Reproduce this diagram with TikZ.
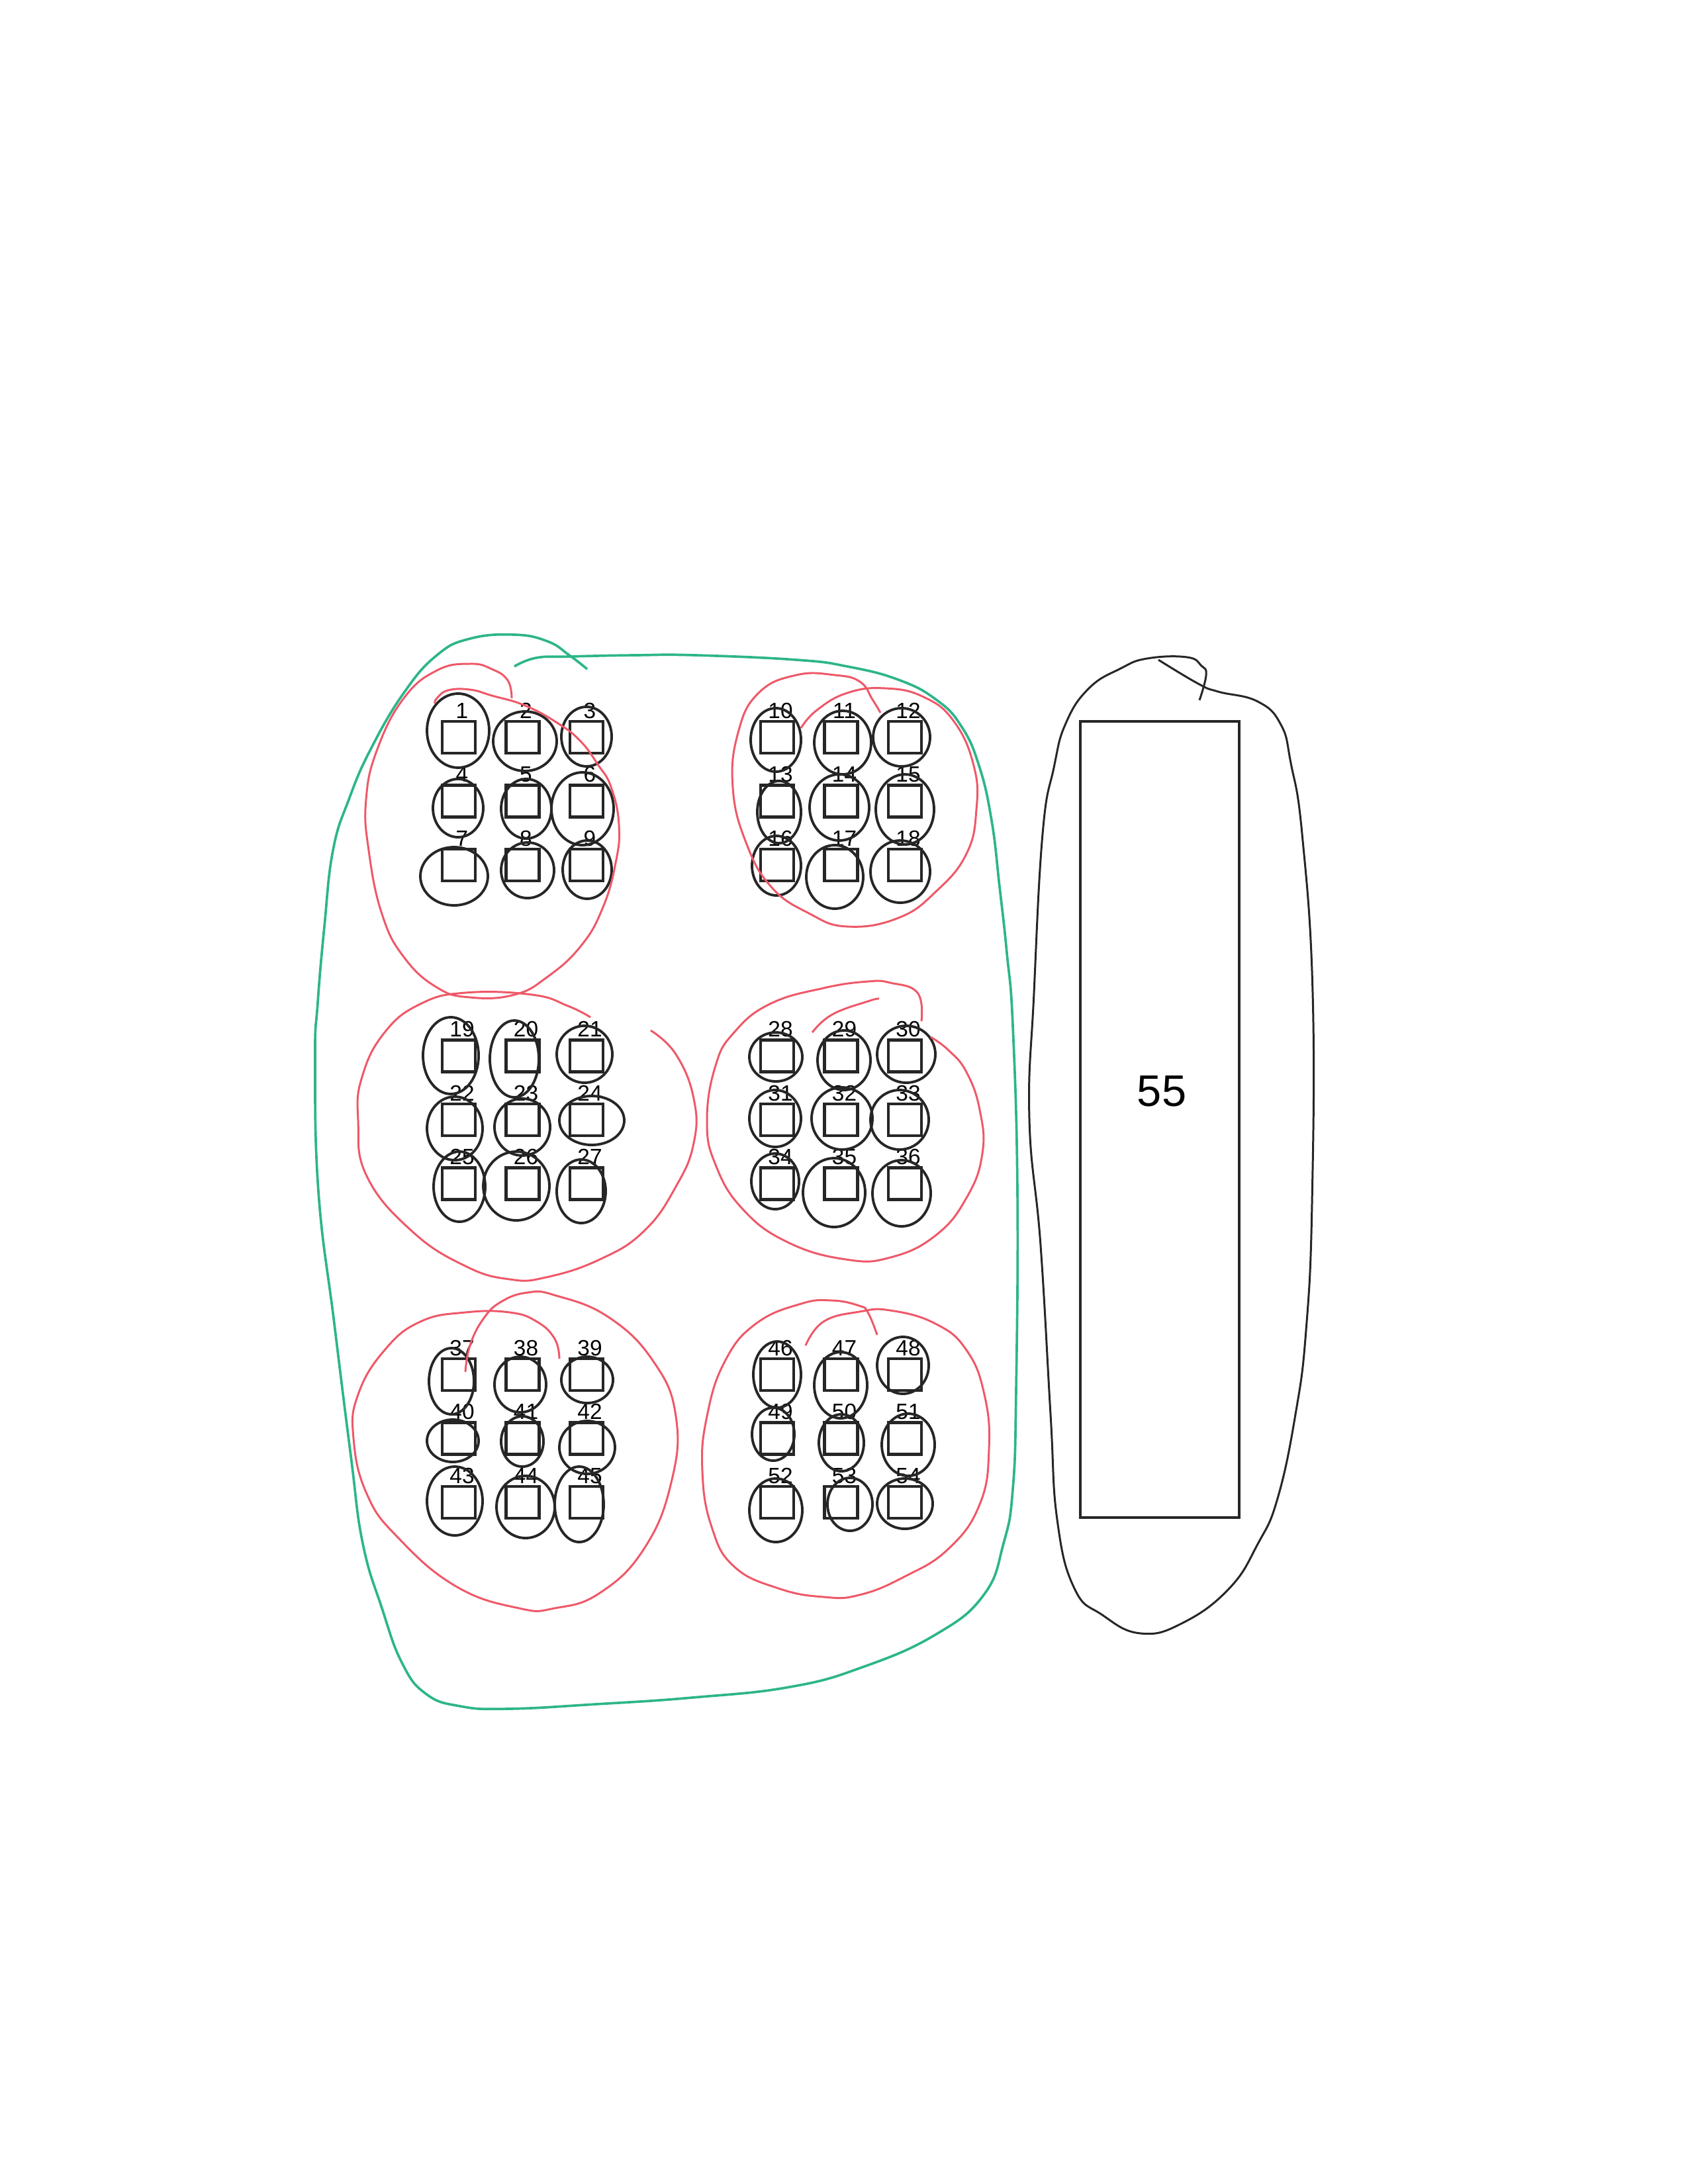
\documentclass[tikz,border=0pt]{standalone}
\usepackage{fontspec}
\setmainfont{Liberation Sans}
\usepackage{xcolor}
\usepackage{tikz}
\usetikzlibrary{calc}
\definecolor{inkdark}{HTML}{262626}
\definecolor{redpen}{HTML}{EE5868}
\definecolor{greenpen}{HTML}{2DB58A}
\tikzset{
  seat/.style={draw=inkdark,line width=1.3pt,minimum width=0.5cm,minimum height=0.48cm,inner sep=0pt},
  num/.style={font=\fontsize{9.5}{9.5}\selectfont,inner sep=0pt,anchor=base},
  ring/.style={draw=inkdark,line width=1.1pt},
  redloop/.style={draw=redpen,line width=0.85pt},
  greenloop/.style={draw=greenpen,line width=1.05pt},
  blackloop/.style={draw=inkdark,line width=0.85pt},
  block/.style={draw=inkdark,line width=1.4pt,minimum width=2.4cm,minimum height=12.03cm,inner sep=0pt},
  bignum/.style={font=\fontsize{19}{19}\selectfont,inner sep=0pt}
}

\begin{document}
\begin{tikzpicture}[smooth,tension=0.75]
  \useasboundingbox (0,0) rectangle (25.5,-33);
  \foreach \g in {0,...,5} {
    \foreach \r in {0,1,2} {
      \foreach \c in {0,1,2} {
        \pgfmathtruncatemacro{\n}{9*\g+3*\r+\c+1}
        \pgfmathsetmacro{\sx}{6.93+4.81*mod(\g,2)+0.965*\c}
        \pgfmathsetmacro{\sy}{-11.14-4.815*floor(\g/2)-0.965*\r}
        \node[seat] (s\n) at (\sx,\sy) {};
        \node[num] (n\n) at (\sx+0.05,\sy+0.29) {\n};
      }
    }
  }
  \foreach \n/\cx/\cy/\rx/\ry in {
    1/6.92/-11.04/.47/.56, 2/7.93/-11.20/.48/.45, 3/8.86/-11.13/.38/.45,
    4/6.92/-12.21/.38/.44, 5/7.95/-12.22/.38/.45, 6/8.80/-12.22/.47/.55,
    7/6.86/-13.24/.51/.44, 8/7.97/-13.15/.40/.42, 9/8.87/-13.14/.37/.44,
    10/11.72/-11.18/.38/.48, 11/12.73/-11.22/.43/.48, 12/13.62/-11.14/.43/.44,
    13/11.77/-12.27/.33/.47, 14/12.68/-12.20/.45/.50, 15/13.67/-12.23/.44/.53,
    16/11.73/-13.08/.37/.45, 17/12.61/-13.25/.43/.48, 18/13.60/-13.17/.45/.47,
    19/6.81/-15.95/.42/.58, 20/7.77/-16.00/.37/.58, 21/8.83/-15.93/.42/.43,
    22/6.87/-17.05/.42/.48, 23/7.89/-17.03/.42/.43, 24/8.94/-16.93/.49/.37,
    25/6.94/-17.93/.39/.53, 26/7.80/-17.92/.50/.52, 27/8.78/-18.00/.37/.48,
    28/11.72/-15.97/.40/.37, 29/12.75/-16.02/.40/.45, 30/13.69/-15.93/.44/.43,
    31/11.71/-16.90/.39/.43, 32/12.72/-16.90/.46/.47, 33/13.59/-16.92/.44/.45,
    34/11.71/-17.85/.36/.42, 35/12.60/-18.02/.47/.52, 36/13.62/-18.03/.44/.50,
    37/6.82/-20.87/.34/.50, 38/7.86/-20.92/.39/.42, 39/8.87/-20.85/.39/.35,
    40/6.84/-21.77/.39/.32, 41/7.89/-21.78/.32/.38, 42/8.87/-21.87/.42/.40,
    43/6.87/-22.68/.42/.52, 44/7.94/-22.77/.44/.47, 45/8.75/-22.73/.37/.57,
    46/11.74/-20.77/.36/.50, 47/12.70/-20.93/.40/.50, 48/13.64/-20.63/.39/.43,
    49/11.68/-21.67/.32/.40, 50/12.71/-21.80/.34/.43, 51/13.72/-21.83/.40/.47,
    52/11.72/-22.82/.40/.48, 53/12.84/-22.73/.34/.40, 54/13.67/-22.72/.42/.38}
    \draw[ring] (\cx,\cy) ellipse[x radius=\rx, y radius=\ry];
  \draw[redloop] plot coordinates {(7.73,-10.55) (7.67,-10.28) (7.43,-10.11) (7.10,-10.03) (6.60,-10.13) (6.10,-10.55) (5.70,-11.32) (5.53,-12.08) (5.57,-12.85) (5.77,-13.81) (6.10,-14.46) (6.60,-14.92) (7.10,-15.07) (7.77,-15.03) (8.27,-14.76) (8.77,-14.30) (9.10,-13.73) (9.30,-13.04) (9.35,-12.46) (9.23,-11.89) (9.03,-11.55) (8.77,-11.20) (8.43,-10.93) (7.93,-10.66) (7.43,-10.51) (7.10,-10.42) (6.77,-10.43) (6.60,-10.55) (6.57,-10.63)};
  \draw[redloop] plot coordinates {(13.30,-10.77) (13.18,-10.57) (12.99,-10.30) (12.61,-10.20) (12.03,-10.20) (11.46,-10.47) (11.15,-11.07) (11.07,-11.90) (11.27,-12.73) (11.65,-13.40) (12.22,-13.80) (12.80,-14.00) (13.57,-13.87) (14.14,-13.47) (14.60,-12.90) (14.75,-12.23) (14.71,-11.57) (14.41,-10.90) (13.95,-10.53) (13.37,-10.40) (12.80,-10.47) (12.34,-10.73) (12.10,-11.00)};
  \draw[redloop] plot coordinates {(9.83,-15.57) (10.21,-15.93) (10.48,-16.60) (10.48,-17.27) (10.21,-17.93) (9.73,-18.60) (9.06,-19.03) (8.25,-19.30) (7.70,-19.33) (7.03,-19.13) (6.22,-18.60) (5.54,-17.77) (5.41,-16.93) (5.47,-16.27) (5.81,-15.60) (6.35,-15.17) (7.03,-15.00) (8.04,-15.03) (8.58,-15.20) (8.92,-15.37)};
  \draw[redloop] plot coordinates {(13.92,-15.43) (13.86,-15.00) (13.45,-14.85) (13.11,-14.83) (12.44,-14.93) (11.63,-15.17) (11.09,-15.60) (10.81,-16.10) (10.68,-16.93) (10.81,-17.60) (11.22,-18.27) (11.90,-18.77) (12.78,-19.03) (13.45,-19.00) (14.13,-18.67) (14.60,-18.10) (14.84,-17.43) (14.80,-16.77) (14.60,-16.20) (14.33,-15.87) (14.06,-15.67)};
  \draw[redloop] plot coordinates {(12.27,-15.60) (12.57,-15.33) (13.11,-15.13) (13.28,-15.09)};
  \draw[redloop] plot coordinates {(8.45,-20.53) (8.38,-20.23) (8.11,-19.97) (7.70,-19.83) (7.03,-19.83) (6.35,-19.97) (5.81,-20.40) (5.41,-21.07) (5.34,-21.73) (5.54,-22.57) (6.01,-23.23) (6.89,-23.97) (7.84,-24.30) (8.38,-24.30) (9.06,-24.07) (9.73,-23.40) (10.14,-22.40) (10.21,-21.40) (9.87,-20.57) (9.19,-19.90) (8.38,-19.57) (7.97,-19.53) (7.57,-19.67) (7.30,-19.93) (7.10,-20.33) (7.03,-20.73)};
  \draw[redloop] plot coordinates {(12.17,-20.33) (12.44,-19.97) (12.98,-19.82) (13.45,-19.80) (14.13,-20.00) (14.60,-20.40) (14.87,-21.07) (14.94,-21.90) (14.80,-22.73) (14.33,-23.40) (13.65,-23.83) (12.98,-24.10) (12.44,-24.13) (11.76,-24.00) (11.09,-23.67) (10.75,-23.07) (10.61,-22.23) (10.68,-21.40) (10.95,-20.57) (11.42,-20.00) (12.10,-19.70) (12.57,-19.65) (12.98,-19.73) (13.11,-19.83) (13.25,-20.17)};
  \draw[greenloop] plot coordinates {(7.77,-10.07) (8.10,-9.94) (8.60,-9.92) (9.60,-9.90) (10.50,-9.90) (12.03,-9.97) (12.80,-10.07) (13.57,-10.27) (14.14,-10.57) (14.52,-10.97) (14.79,-11.57) (14.98,-12.40) (15.10,-13.40) (15.21,-14.40) (15.30,-15.50) (15.37,-18.00) (15.35,-21.00) (15.30,-22.50) (15.16,-23.32) (14.86,-24.10) (14.13,-24.70) (13.03,-25.19) (11.93,-25.49) (10.46,-25.65) (9.00,-25.75) (7.68,-25.82) (6.95,-25.78) (6.43,-25.59) (6.07,-25.12) (5.77,-24.30) (5.48,-23.32) (5.30,-22.00) (5.05,-20.00) (4.81,-18.00) (4.76,-16.00) (4.80,-15.15) (4.90,-14.00) (5.03,-12.85) (5.27,-12.08) (5.60,-11.32) (6.10,-10.47) (6.60,-9.90) (7.10,-9.65) (7.77,-9.59) (8.27,-9.69) (8.60,-9.90) (8.87,-10.11)};
  \node[block] (stage) at (17.52,-16.915) {};
  \node[bignum] (n55) at (17.55,-16.49) {55};
  \draw[blackloop] plot coordinates {(18.12,-10.58) (18.22,-10.20) (18.15,-10.06) (17.93,-9.93) (17.33,-9.95) (16.93,-10.10) (16.45,-10.40) (16.10,-10.93) (15.92,-11.60) (15.75,-12.60) (15.62,-15.00) (15.55,-16.91) (15.72,-18.82) (15.87,-21.37) (15.97,-22.96) (16.23,-24.00) (16.65,-24.40) (17.23,-24.68) (17.87,-24.52) (18.57,-24.00) (19.00,-23.33) (19.30,-22.64) (19.57,-21.37) (19.73,-20.10) (19.82,-18.18) (19.83,-15.00) (19.67,-12.60) (19.50,-11.53) (19.35,-10.95) (19.00,-10.60) (18.40,-10.45) (18.10,-10.33) (17.50,-9.97)};
\end{tikzpicture}
\end{document}
